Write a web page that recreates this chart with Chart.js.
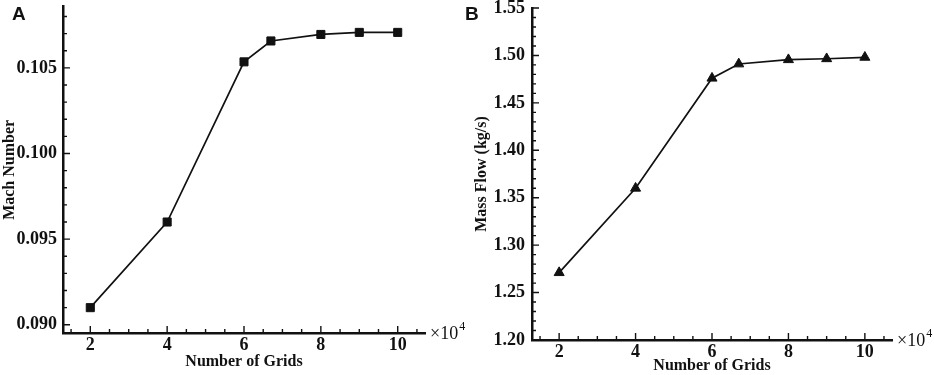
<!DOCTYPE html>
<html>
<head>
<meta charset="utf-8">
<script src="https://cdn.jsdelivr.net/npm/chart.js@4/dist/chart.umd.min.js"></script>
<style>
  html, body { margin: 0; padding: 0; background: #fff; }
  body { width: 934px; height: 375px; position: relative; overflow: hidden; }
  canvas { position: absolute; top: 0; }
  #cA { left: 0; }
  #cB { left: 460px; }
</style>
</head>
<body>
<canvas id="cA" width="470" height="375"></canvas>
<canvas id="cB" width="474" height="375"></canvas>
<script>
// ---- data ----
const gridsA = [2, 4, 6, 6.7, 8, 9, 10];          // ×10^4
const machNumber = [0.0910, 0.0960, 0.10535, 0.10657, 0.10695, 0.10707, 0.10707];

const gridsB = [2, 4, 6, 6.7, 8, 9, 10];          // ×10^4
const massFlow = [1.271, 1.360, 1.476, 1.491, 1.4955, 1.4965, 1.498];

const xTicks = [2, 4, 6, 8, 10];
const yTicksA = [0.090, 0.095, 0.100, 0.105];
const yTicksB = [1.20, 1.25, 1.30, 1.35, 1.40, 1.45, 1.50, 1.55];

const xTitle = 'Number of Grids';
const yTitleA = 'Mach Number';
const yTitleB = 'Mass Flow (kg/s)';

// ---- styling helpers ----
const INK = '#111';
const SERIF = '"Liberation Serif", "Times New Roman", serif';

function minorList(lo, hi, step, majors) {
  const out = [];
  const n0 = Math.ceil(lo / step - 1e-9), n1 = Math.floor(hi / step + 1e-9);
  for (let i = n0; i <= n1; i++) {
    const v = +(i * step).toFixed(6);
    if (!majors.some(m => Math.abs(m - v) < step / 10)) out.push(v);
  }
  return out;
}

const inwardTicks = {
  id: 'inwardTicks',
  afterDraw(chart) {
    const o = chart.options.plugins.inwardTicks;
    const { ctx, chartArea: a } = chart;
    const xs = chart.scales.x, ys = chart.scales.y;
    ctx.save();
    ctx.strokeStyle = INK;
    ctx.lineWidth = 1.4;
    ctx.beginPath();
    o.xMajor.forEach(v => { const p = xs.getPixelForValue(v); ctx.moveTo(p, a.bottom); ctx.lineTo(p, a.bottom - 7); });
    o.xMinor.forEach(v => { const p = xs.getPixelForValue(v); ctx.moveTo(p, a.bottom); ctx.lineTo(p, a.bottom - 4); });
    o.yMajor.forEach(v => { const p = ys.getPixelForValue(v); ctx.moveTo(a.left, p); ctx.lineTo(a.left + 7, p); });
    o.yMinor.forEach(v => { const p = ys.getPixelForValue(v); ctx.moveTo(a.left, p); ctx.lineTo(a.left + 4, p); });
    ctx.stroke();
    // ×10^4 multiplier
    ctx.fillStyle = INK;
    ctx.textBaseline = 'alphabetic';
    ctx.textAlign = 'left';
    ctx.font = '18px ' + SERIF;
    const mx = a.right + 5, my = a.bottom + 6;
    ctx.fillText('×10', mx, my);
    const w = ctx.measureText('×10').width;
    ctx.font = '12px ' + SERIF;
    ctx.fillText('4', mx + w + 1, my - 9);
    // panel letter
    ctx.font = 'bold 19px "Liberation Sans", Arial, sans-serif';
    ctx.fillText(o.letter, o.letterX, 20);
    ctx.restore();
  }
};

function makeChart(id, xs, ys, cfg) {
  return new Chart(document.getElementById(id), {
    type: 'scatter',
    data: {
      datasets: [{
        data: xs.map((x, i) => ({ x: x, y: ys[i] })),
        showLine: true,
        borderColor: INK,
        borderWidth: 1.7,
        pointStyle: cfg.pointStyle,
        pointRadius: cfg.pointRadius,
        pointHoverRadius: cfg.pointRadius,
        pointBackgroundColor: INK,
        pointBorderColor: INK,
        pointBorderWidth: 1,
        clip: false
      }]
    },
    options: {
      responsive: false,
      animation: false,
      events: [],
      layout: { padding: cfg.padding },
      plugins: {
        legend: { display: false },
        tooltip: { enabled: false },
        inwardTicks: {
          xMajor: xTicks,
          xMinor: minorList(cfg.xMin, cfg.xMax, 0.5, xTicks),
          yMajor: cfg.yTicks,
          yMinor: minorList(cfg.yMin, cfg.yMax, cfg.yMinorStep, cfg.yTicks),
          letter: cfg.letter,
          letterX: cfg.letterX
        }
      },
      scales: {
        x: {
          type: 'linear',
          min: cfg.xMin, max: cfg.xMax,
          afterBuildTicks: s => { s.ticks = xTicks.map(v => ({ value: v })); },
          afterFit: s => { s.height = cfg.xHeight; s.paddingLeft = 0; s.paddingRight = 0; },
          grid: { display: false, drawTicks: false },
          border: { display: true, color: INK, width: 2.5 },
          ticks: {
            padding: cfg.xTickPad,
            color: INK,
            font: { family: SERIF, size: 18, weight: 'bold' },
            callback: v => String(v),
            maxRotation: 0, autoSkip: false
          },
          title: {
            display: true, text: xTitle, color: INK,
            font: { family: SERIF, size: 16, weight: 'bold' },
            padding: { top: 0, bottom: cfg.xTitlePad }
          }
        },
        y: {
          type: 'linear',
          min: cfg.yMin, max: cfg.yMax,
          afterBuildTicks: s => { s.ticks = cfg.yTicks.map(v => ({ value: v })); },
          afterFit: s => { s.width = cfg.yWidth; s.paddingTop = 0; s.paddingBottom = 0; },
          grid: { display: false, drawTicks: false },
          border: { display: true, color: INK, width: 2.5 },
          ticks: {
            padding: cfg.yTickPad,
            color: INK,
            font: { family: SERIF, size: 18, weight: 'bold' },
            callback: v => v.toFixed(cfg.yDecimals),
            autoSkip: false
          },
          title: {
            display: true, text: cfg.yTitle, color: INK,
            font: { family: SERIF, size: 16, weight: 'bold' },
            padding: { top: cfg.yTitlePad, bottom: 0 }
          }
        }
      }
    },
    plugins: [inwardTicks]
  });
}

makeChart('cA', gridsA, machNumber, {
  pointStyle: 'rect', pointRadius: 5.7,
  padding: { left: 0, top: 1, right: 45, bottom: 0 },
  xMin: 1.29, xMax: 10.71, xHeight: 42, xTickPad: 2, xTitlePad: 4,
  yMin: 0.08952, yMax: 0.10857, yTicks: yTicksA, yMinorStep: 0.001, yDecimals: 3,
  yWidth: 63, yTickPad: 6, yTitle: yTitleA, yTitlePad: 0,
  letter: 'A', letterX: 12
});

makeChart('cB', gridsB, massFlow, {
  pointStyle: 'triangle', pointRadius: 5.8,
  padding: { left: 0, top: 8, right: 42, bottom: 0 },
  xMin: 1.29, xMax: 10.71, xHeight: 35, xTickPad: 2, xTitlePad: 0,
  yMin: 1.20, yMax: 1.55, yTicks: yTicksB, yMinorStep: 0.01, yDecimals: 2,
  yWidth: 72, yTickPad: 7, yTitle: yTitleB, yTitlePad: 12,
  letter: 'B', letterX: 5
});
</script>
</body>
</html>
